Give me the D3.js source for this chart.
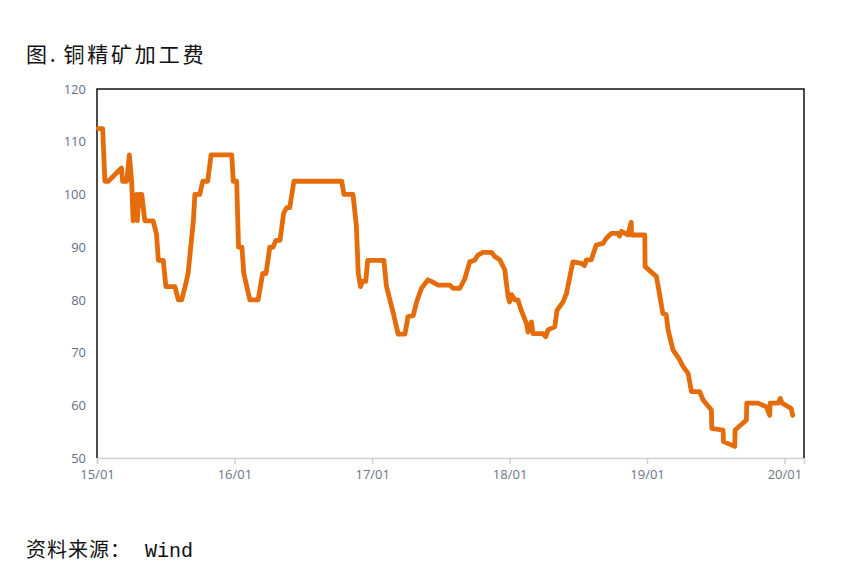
<!DOCTYPE html>
<html>
<head>
<meta charset="utf-8">
<script src="https://cdn.jsdelivr.net/npm/d3@7"></script>
<style>
  html, body { margin: 0; padding: 0; background: #fff; }
  svg { display: block; }
</style>
</head>
<body>
<svg id="chart" width="865" height="575"></svg>
<script>
// ---- data ----
const titleHead = "图.";
const titleBody = "铜精矿加工费";
const sourcePrefix = "资料来源：";
const sourceName = "Wind";

const dates = [
  "2015-01-04","2015-01-16","2015-01-22","2015-01-31","2015-03-07","2015-03-10","2015-03-21","2015-03-28",
  "2015-04-03","2015-04-07","2015-04-16","2015-04-18","2015-04-23","2015-04-30","2015-05-08","2015-05-30",
  "2015-06-08","2015-06-13","2015-06-26","2015-07-03","2015-07-27","2015-08-05","2015-08-14","2015-08-23",
  "2015-08-31","2015-09-14","2015-09-18","2015-10-01","2015-10-09","2015-10-22","2015-10-31","2015-12-25",
  "2015-12-29","2016-01-07","2016-01-12","2016-01-21","2016-01-26","2016-02-11","2016-03-04","2016-03-16",
  "2016-03-25","2016-04-04","2016-04-13","2016-04-20","2016-05-01","2016-05-11","2016-05-19","2016-05-27",
  "2016-06-07","2016-10-12","2016-10-18","2016-11-11","2016-11-20","2016-11-25","2016-12-01","2016-12-06",
  "2016-12-15","2016-12-20","2017-02-01","2017-02-08","2017-02-26","2017-03-11","2017-03-29","2017-04-06",
  "2017-04-20","2017-04-29","2017-05-12","2017-05-29","2017-06-07","2017-06-25","2017-07-26","2017-08-04",
  "2017-08-22","2017-09-04","2017-09-17","2017-09-30","2017-10-09","2017-10-22","2017-11-14","2017-11-23",
  "2017-12-06","2017-12-19","2017-12-28","2018-01-01","2018-01-06","2018-01-15","2018-01-23","2018-02-01",
  "2018-02-15","2018-02-19","2018-02-28","2018-03-04","2018-03-31","2018-04-07","2018-04-13","2018-05-01",
  "2018-05-07","2018-05-23","2018-06-01","2018-06-18","2018-07-11","2018-07-19","2018-07-24","2018-08-06",
  "2018-08-19","2018-09-06","2018-09-15","2018-09-28","2018-10-16","2018-10-20","2018-10-25","2018-11-11",
  "2018-11-20","2018-11-21","2018-12-26","2018-12-27","2019-01-26","2019-02-03","2019-02-12","2019-02-21",
  "2019-02-26","2019-03-11","2019-03-29","2019-04-07","2019-04-20","2019-04-29","2019-05-21","2019-05-30",
  "2019-06-21","2019-06-22","2019-07-22","2019-07-23","2019-08-22","2019-08-23","2019-09-22","2019-09-23",
  "2019-10-23","2019-11-14","2019-11-23","2019-11-24","2019-12-15","2019-12-21","2019-12-26","2020-01-19",
  "2020-01-23"
];
const values = [
  112.5,112.5,102.5,102.5,105,102.5,102.5,107.5,
  102.5,95,100,95,100,100,95,95,
  92.5,87.5,87.5,82.5,82.5,80,80,82.5,
  85,95,100,100,102.5,102.5,107.5,107.5,
  102.5,102.5,90,90,85,80,80,85,
  85,90,90,91.3,91.3,96.5,97.5,97.5,
  102.5,102.5,100,100,94,85,82.5,83.5,
  83.5,87.5,87.5,82.5,77.5,73.5,73.5,76.8,
  77,79.6,82.2,83.8,83.5,82.8,82.8,82.2,
  82.2,84,87.2,87.5,88.5,89,89,88.2,
  87.6,85.7,80.6,79.6,81,80,80,78,
  75.5,73.9,75.8,73.6,73.6,73,74.3,74.9,
  78,79.6,81.2,87.2,86.9,86.5,87.6,87.6,
  90.4,90.7,91.7,92.6,92.6,92.1,93,92.3,
  94.7,92.3,92.3,86.3,84.4,81.2,77.4,77.2,
  74.3,70.5,68.6,67.3,66.1,62.6,62.6,61,
  59.1,55.6,55.3,53.1,52.2,55.3,57.2,60.4,
  60.4,59.7,58.1,60.4,60.4,61.3,60.4,59.4,
  58.1
];
const yTicks = [50, 60, 70, 80, 90, 100, 110, 120];
const xTickDates = ["2015-01-01","2016-01-01","2017-01-01","2018-01-01","2019-01-01","2020-01-01"];
const xDomain = ["2015-01-01", "2020-02-22"];

// ---- drawing ----
const parse = d3.timeParse("%Y-%m-%d");
const data = dates.map((d, i) => ({ date: parse(d), value: values[i] }));

const margin = { left: 97, right: 61, top: 89, bottom: 117 };
const W = 865, H = 575;
const svg = d3.select("#chart");

const x = d3.scaleTime()
  .domain(xDomain.map(parse))
  .range([margin.left, W - margin.right]);
const y = d3.scaleLinear()
  .domain([50, 120])
  .range([H - margin.bottom, margin.top]);

// title
const t = svg.append("text")
  .attr("x", 26).attr("y", 62)
  .attr("font-family", "'Noto Sans CJK SC', sans-serif")
  .attr("font-size", 21)
  .attr("letter-spacing", 2.8)
  .attr("fill", "#111");
t.append("tspan").text(titleHead);
t.append("tspan").attr("dx", 5).text(titleBody);

// x axis
const xAxis = d3.axisBottom(x)
  .tickValues(xTickDates.map(parse))
  .tickFormat(d3.timeFormat("%y/%m"))
  .tickSize(6)
  .tickPadding(6);
const gx = svg.append("g")
  .attr("transform", `translate(0,${y(50)})`)
  .call(xAxis);
gx.select(".domain").attr("stroke", "#d0d0d0").attr("stroke-width", 1.5);
gx.selectAll(".tick line").attr("stroke", "#d0d0d0").attr("stroke-width", 1.5);
gx.selectAll(".tick text")
  .attr("font-family", "'Open Sans', sans-serif")
  .attr("font-size", 13)
  .attr("fill", "#6a7488");

// y axis labels
const yAxis = d3.axisLeft(y)
  .tickValues(yTicks)
  .tickSize(0)
  .tickPadding(11);
const gy = svg.append("g")
  .attr("transform", `translate(${margin.left},0)`)
  .call(yAxis);
gy.select(".domain").remove();
gy.selectAll(".tick text")
  .attr("font-family", "'Open Sans', sans-serif")
  .attr("font-size", 13)
  .attr("fill", "#5f6f8c");

// frame: left, top, right borders
const frame = svg.append("g").attr("stroke", "#111").attr("stroke-width", 1.5).attr("fill", "none");
frame.append("path")
  .attr("d", d3.line()([
    [x.range()[0], y(50)], [x.range()[0], y(120)],
    [x.range()[1], y(120)], [x.range()[1], y(50)]
  ]));

// series line
svg.append("path")
  .datum(data)
  .attr("fill", "none")
  .attr("stroke", "#e46c0a")
  .attr("stroke-width", 4.8)
  .attr("stroke-linejoin", "round")
  .attr("stroke-linecap", "round")
  .attr("d", d3.line().x(d => x(d.date)).y(d => y(d.value)));

// source
const src = svg.append("text")
  .attr("x", 26).attr("y", 557)
  .attr("font-size", 20)
  .attr("fill", "#111");
src.append("tspan")
  .attr("font-family", "'Noto Sans CJK SC', sans-serif")
  .attr("letter-spacing", 1)
  .text(sourcePrefix);
src.append("tspan")
  .attr("font-family", "'Liberation Mono', monospace")
  .attr("dx", 14)
  .text(sourceName);
</script>
</body>
</html>
